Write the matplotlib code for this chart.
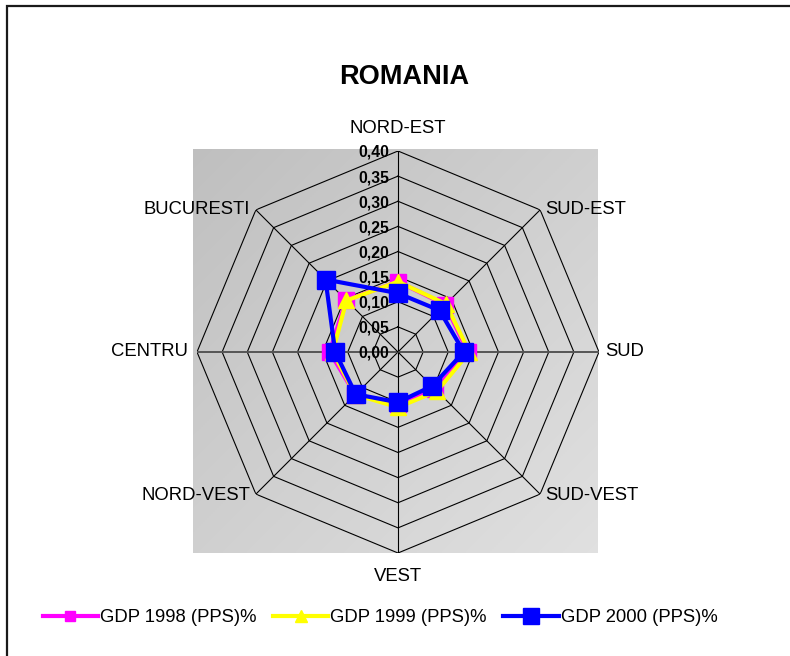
import numpy as np
import matplotlib
matplotlib.use('Agg')
import matplotlib.pyplot as plt
from matplotlib.patches import Rectangle
from matplotlib.lines import Line2D

# ---------------- data ----------------
categories = ['NORD-EST', 'SUD-EST', 'SUD', 'SUD-VEST', 'VEST', 'NORD-VEST', 'CENTRU', 'BUCURESTI']
gdp_1998 = [0.140, 0.133, 0.139, 0.105, 0.103, 0.120, 0.136, 0.146]
gdp_1999 = [0.140, 0.135, 0.142, 0.110, 0.110, 0.120, 0.130, 0.145]
gdp_2000 = [0.117, 0.117, 0.131, 0.096, 0.100, 0.119, 0.125, 0.204]
series_labels = ['GDP 1998 (PPS)%', 'GDP 1999 (PPS)%', 'GDP 2000 (PPS)%']
r_ticks = [0.00, 0.05, 0.10, 0.15, 0.20, 0.25, 0.30, 0.35, 0.40]
r_tick_labels = ['0,00', '0,05', '0,10', '0,15', '0,20', '0,25', '0,30', '0,35', '0,40']
title = 'ROMANIA'

plt.rcParams['font.family'] = ['Liberation Sans', 'DejaVu Sans']

W, H = 790, 656
fig = plt.figure(figsize=(W / 100, H / 100), dpi=100)
fig.patch.set_facecolor('white')

# outer chart border (right / bottom edges fall outside the picture)
fig.patches.append(Rectangle((7 / W, -0.05), 1.0, 1 - 6 / H + 0.05,
                             transform=fig.transFigure, fill=False,
                             ec='#1a1a1a', lw=1.6, zorder=0))

# gradient plot-area background
bg = fig.add_axes([193 / W, (H - 553) / H, 405 / W, 404 / H])
bg.set_axis_off()
gx, gy = np.meshgrid(np.linspace(0, 1, 200), np.linspace(0, 1, 200))
g = (gx + gy) / 2.0
gray = 0.75 + 0.13 * g
img = np.dstack([gray, gray, gray])
bg.imshow(img, extent=[0, 1, 0, 1], aspect='auto', origin='upper')
bg.set_xlim(0, 1)
bg.set_ylim(0, 1)

# radar axes
ax = fig.add_axes([197 / W, (H - 553) / H, 402 / W, 402 / H], projection='polar')
ax.patch.set_alpha(0)
ax.set_theta_zero_location('N')
ax.set_theta_direction(-1)
ax.set_ylim(0, 0.40)
ax.grid(False)
ax.set_xticks([])
ax.set_yticks([])
ax.spines['polar'].set_visible(False)

n = len(categories)
angles = [2 * np.pi * i / n for i in range(n)]
closed = angles + [angles[0]]

# octagonal grid
for lev in r_ticks[1:]:
    ax.plot(closed, [lev] * (n + 1), color='black', lw=0.8, zorder=1)
for i, a in enumerate(angles):
    col = '#555555' if i in (2, 6) else 'black'
    lw = 1.4 if i in (2, 6) else 0.8
    ax.plot([a, a], [0, r_ticks[-1]], color=col, lw=lw, zorder=1)

# series
styles = [
    dict(color='#FF00FF', marker='s', ms=12),
    dict(color='#FFFF00', marker='^', ms=12),
    dict(color='#0000FF', marker='s', ms=12.5),
]
for vals, st, lab in zip([gdp_1998, gdp_1999, gdp_2000], styles, series_labels):
    ax.plot(closed, list(vals) + [vals[0]], color=st['color'], lw=3.0,
            marker=st['marker'], ms=st['ms'], mec=st['color'], mfc=st['color'],
            markevery=list(range(n)), zorder=3, clip_on=False)

# radial tick labels
for v, t in zip(r_ticks, r_tick_labels):
    ax.annotate(t, xy=(0, v), xytext=(-6.5, -1), textcoords='offset points',
                ha='right', va='center', fontsize=11.3, fontweight='bold',
                zorder=5, annotation_clip=False)

# category labels
offsets = {
    0: ((0, 16.5), 'center', 'center'),
    1: ((4, 0), 'left', 'center'),
    2: ((4.5, 0), 'left', 'center'),
    3: ((4, -1), 'left', 'center'),
    4: ((0, -17), 'center', 'center'),
    5: ((-4, -1), 'right', 'center'),
    6: ((-6.5, 0), 'right', 'center'),
    7: ((-4, 0), 'right', 'center'),
}
for i, (a, c) in enumerate(zip(angles, categories)):
    off, ha, va = offsets[i]
    ax.annotate(c, xy=(a, r_ticks[-1]), xytext=off, textcoords='offset points',
                ha=ha, va=va, fontsize=13.3, annotation_clip=False)

fig.text(404 / W, 1 - 77 / H, title, ha='center', va='center',
         fontsize=19.5, fontweight='bold')

# legend
handles = [
    Line2D([], [], color='#FF00FF', lw=3, marker='s', ms=7),
    Line2D([], [], color='#FFFF00', lw=3, marker='^', ms=9),
    Line2D([], [], color='#0000FF', lw=3, marker='s', ms=12),
]
fig.legend(handles, series_labels, loc='center', bbox_to_anchor=(380 / W, 1 - 618 / H),
           ncol=3, frameon=False, fontsize=13.3, handlelength=3.0,
           handletextpad=0.1, columnspacing=0.9)

fig.savefig('out.png', dpi=100)
